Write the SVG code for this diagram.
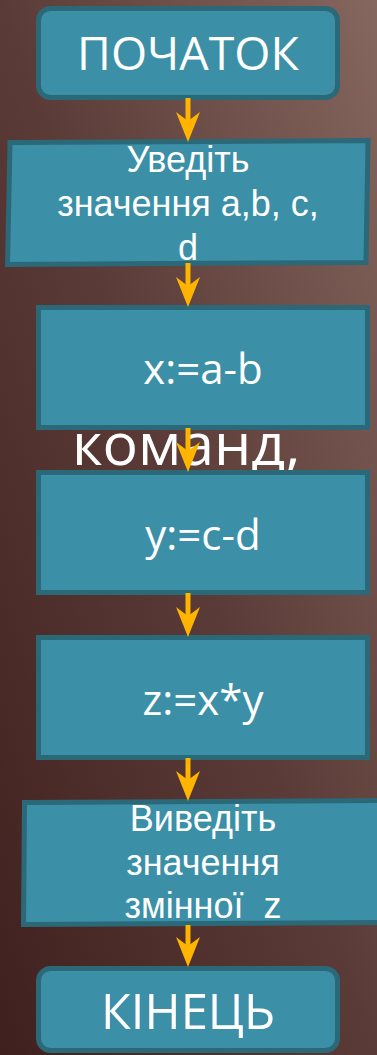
<svg xmlns="http://www.w3.org/2000/svg" width="377" height="1055" viewBox="0 0 377 1055">
<defs>
<linearGradient id="bg" x1="0" y1="1" x2="1" y2="0">
<stop offset="0" stop-color="#3f201e"/>
<stop offset="0.5" stop-color="#5a3b37"/>
<stop offset="1" stop-color="#86675f"/>
</linearGradient>
<marker id="ah" markerUnits="userSpaceOnUse" viewBox="0 0 30 24" refX="12" refY="12" markerWidth="30" markerHeight="24" orient="auto">
<path d="M0,0 L30,12 L0,24 L9,12 Z" fill="#ffb400"/>
</marker>
<style>
.box{fill:#3b90a7;stroke:#2b6878;stroke-width:5}
.t{fill:#ffffff;text-anchor:middle}
.os{font-family:"Open Sans","DejaVu Sans",sans-serif}
.ar{font-family:"Liberation Sans",Arial,sans-serif}
.cn{stroke:#ffb400;stroke-width:5;fill:none;marker-end:url(#ah)}
</style>
</defs>
<rect x="0" y="0" width="377" height="1055" fill="url(#bg)"/>
<text x="72" y="465" class="os" font-size="59" fill="#ffffff">команд,</text>
<g id="start">
<rect class="box" x="38.5" y="8.5" width="299" height="89" rx="12"/>
<text class="t os" x="188" y="70" font-size="46.5">ПОЧАТОК</text>
</g>
<g id="input">
<polygon class="box" points="10,142.5 368,140.5 366,262.5 7.5,264.5"/>
<text class="t ar" x="188" y="172" font-size="36">Уведіть</text>
<text class="t ar" x="188" y="216" font-size="36">значення a,b, c,</text>
<text class="t ar" x="188" y="260" font-size="36">d</text>
</g>
<g id="calcx">
<rect class="box" x="38.5" y="307.5" width="329" height="120"/>
<text class="t os" x="203" y="384" font-size="42">x:=a-b</text>
</g>
<g id="calcy">
<rect class="box" x="38.5" y="472.5" width="329" height="120"/>
<text class="t os" x="203" y="550" font-size="42">y:=c-d</text>
</g>
<g id="calcz">
<rect class="box" x="38.5" y="637.5" width="329" height="120"/>
<text class="t os" x="203" y="715" font-size="42">z:=x*y</text>
</g>
<g id="output">
<polygon class="box" points="24.5,802.5 382,800.5 382,922.5 23.5,924.5"/>
<text class="t ar" x="203" y="831" font-size="36">Виведіть</text>
<text class="t ar" x="203" y="875" font-size="36">значення</text>
<text class="t ar" x="203" y="918" font-size="36" xml:space="preserve">змінної  z</text>
</g>
<g id="end">
<rect class="box" x="38.5" y="968.5" width="299" height="82" rx="12"/>
<text class="t os" x="188" y="1029" font-size="49">КІНЕЦЬ</text>
</g>
<g id="connectors">
<line class="cn" x1="188" y1="98" x2="188" y2="124"/>
<line class="cn" x1="188" y1="263" x2="188" y2="289"/>
<line class="cn" x1="188" y1="428" x2="188" y2="454"/>
<line class="cn" x1="188" y1="593" x2="188" y2="619"/>
<line class="cn" x1="188" y1="758" x2="188" y2="783"/>
<line class="cn" x1="188" y1="925" x2="188" y2="949"/>
</g>
</svg>
